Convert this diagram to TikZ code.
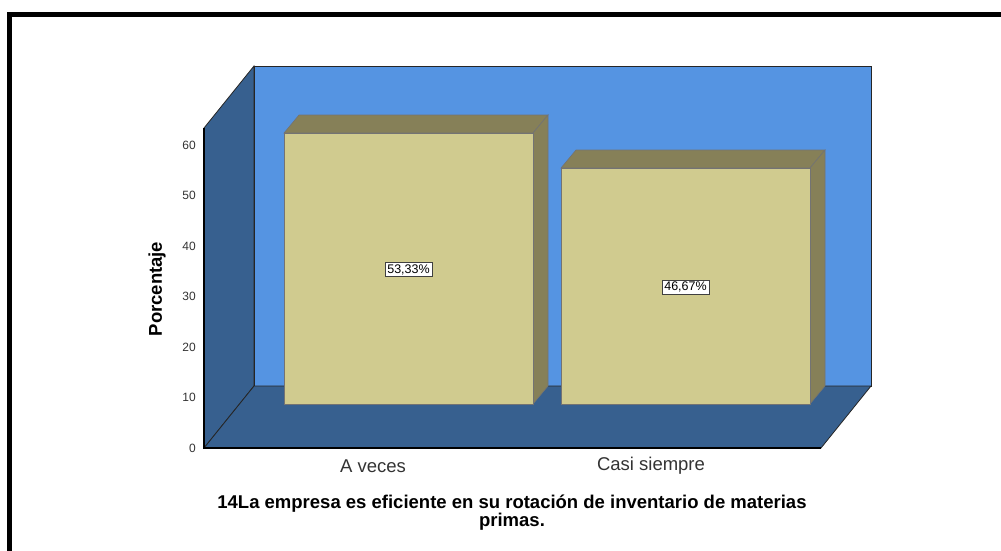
\documentclass[tikz,border=0pt]{standalone}
\usepackage{fontspec}
\setmainfont{Liberation Sans}
\usetikzlibrary{positioning}
\definecolor{backwall}{HTML}{5594E2}
\definecolor{sidewall}{HTML}{37608F}
\definecolor{barfront}{HTML}{D0CB8F}
\definecolor{barside}{HTML}{868058}
\tikzset{
  tick/.style={anchor=east, inner sep=1pt, font=\fontsize{12}{14}\selectfont, text=black!80},
  catlabel/.style={font=\fontsize{18.5}{20}\selectfont, text=black!80},
  pct/.style={draw=black!75, fill=white, inner sep=2pt, font=\fontsize{12.5}{14}\selectfont},
  wall/.style={draw=black!85, line width=0.8pt},
  barface/.style={draw=black!55, line width=0.6pt},
}

\begin{document}
\begin{tikzpicture}[x=1pt, y=-1pt]
    \useasboundingbox (0,0) rectangle (1001,550);
    \draw[line width=5pt] (9.5,14.5) rectangle (1030,580);
    % walls and floor
    \filldraw[wall, fill=sidewall] (204,448) -- (254,386) -- (254,66) -- (204,128) -- cycle;
    \filldraw[wall, fill=backwall] (254,66) rectangle (871,386);
    \filldraw[wall, fill=sidewall] (204,448) -- (254,386) -- (871,386) -- (821,448) -- cycle;
    \draw[line width=1.2pt] (204,128) -- (204,448) -- (821,448);
    % bars
    \foreach \x/\t/\n/\v in {284/133/a/{53,33\%}, 561/168/b/{46,67\%}} {
        \filldraw[barface, fill=barside] (\x,\t) -- (\x+15,\t-18) -- (\x+264,\t-18) -- (\x+249,\t) -- cycle;
        \filldraw[barface, fill=barside] (\x+249,\t) -- (\x+264,\t-18) -- (\x+264,386) -- (\x+249,404) -- cycle;
        \filldraw[barface, fill=barfront] (\x,\t) rectangle (\x+249,404);
        \node[pct] at (\x+124.5,{(\t+404)/2+1}) (P\n) {\v};
    }
    % axis
    \foreach \v in {0,10,...,60}
        \node[tick] at (197,{448-\v*5.05}) (T\v) {\v};
    \node[catlabel] at (373,466) (Ca) {A veces};
    \node[catlabel] at (651,466) (Cb) {Casi siempre};
    \node[rotate=90, font=\fontsize{18.5}{20}\selectfont\bfseries] at (157,289) (Ylab) {Porcentaje};
    \node[align=center, font=\fontsize{18.5}{18}\selectfont\bfseries] at (512,513) (Title)
        {14La empresa es eficiente en su rotación de inventario de materias\\primas.};
\end{tikzpicture}
\end{document}
